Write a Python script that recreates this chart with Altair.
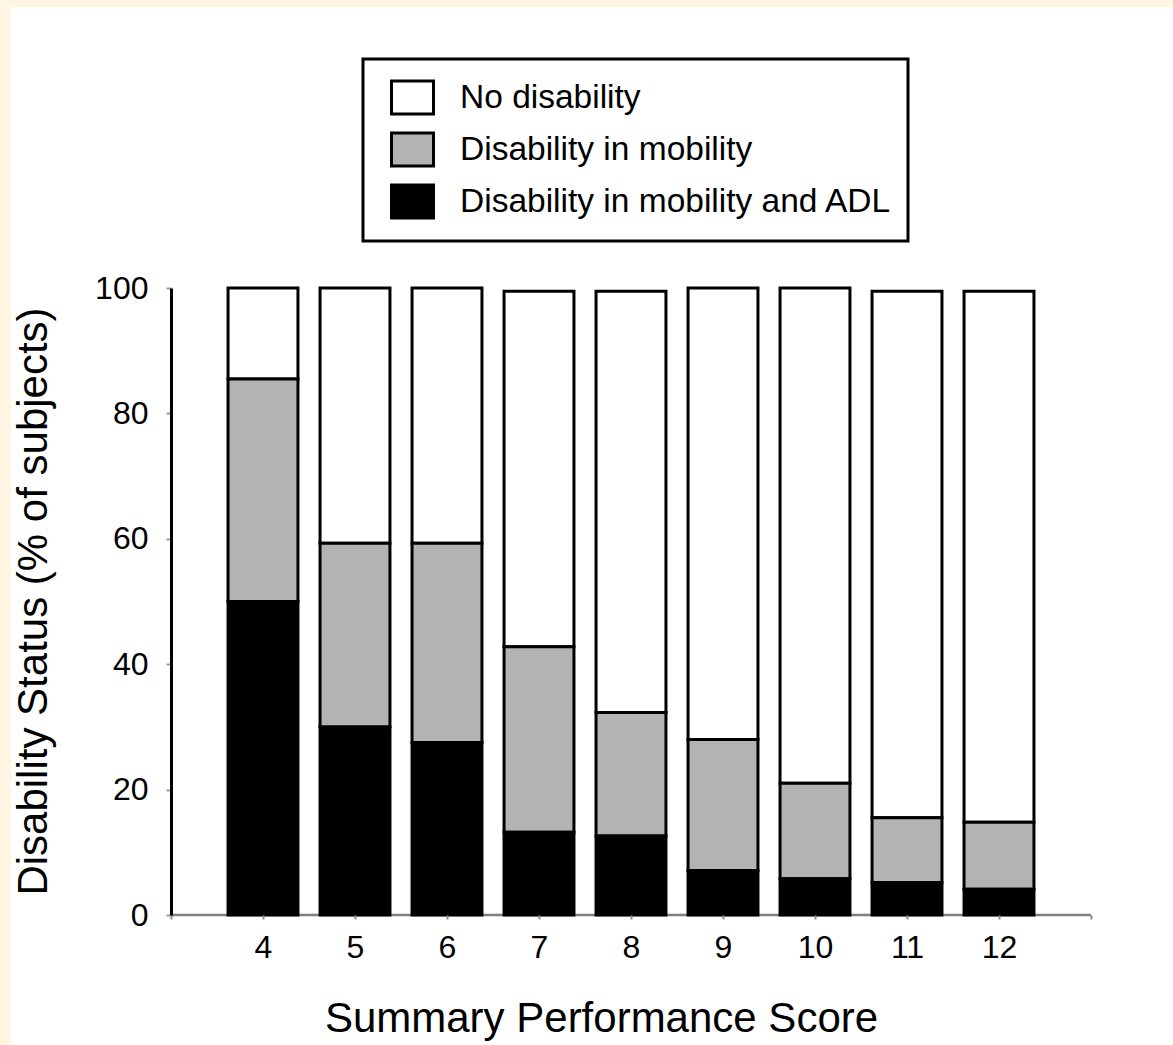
import altair as alt
import pandas as pd

# Summary Performance Score groups
scores = [4, 5, 6, 7, 8, 9, 10, 11, 12]

# Percent of subjects in each disability status (segments stack to ~100%)
adl = [50.0, 30.0, 27.5, 13.2, 12.6, 7.1, 5.8, 5.2, 4.1]
mobility = [35.5, 29.3, 31.8, 29.6, 19.7, 20.9, 15.2, 10.3, 10.7]
no_disability = [14.5, 40.7, 40.7, 56.7, 67.2, 72.0, 79.0, 84.0, 84.7]

categories = ["No disability", "Disability in mobility", "Disability in mobility and ADL"]
fills = ["#FFFFFF", "#B3B3B3", "#000000"]
stack_rank = [2, 1, 0]  # black at the bottom, white on top

x_ticks = list(range(3, 14))
y_ticks = [0, 20, 40, 60, 80, 100]

rows = []
for i, s in enumerate(scores):
    for cat, vals, rk in zip(categories, [no_disability, mobility, adl], stack_rank):
        rows.append({"score": s, "status": cat, "pct": vals[i], "rank": rk})
df = pd.DataFrame(rows)

FONT = "Liberation Sans"
W, H = 920, 627
PAD = {"left": 171, "top": 288, "right": 82, "bottom": 130}
Y_TITLE = "Disability Status (% of subjects)"

y_scale = alt.Scale(domain=[0, 100], nice=False)

# white page panel leaving a thin cream margin at top and left
panel = alt.Chart(pd.DataFrame({"k": [0]})).mark_rect(color="white").encode(
    x=alt.value(11 - PAD["left"]),
    x2=alt.value(W + PAD["right"]),
    y=alt.value(7 - PAD["top"]),
    y2=alt.value(H + PAD["bottom"]),
)

# grey baseline at 0%, drawn beneath the bars
baseline = alt.Chart(pd.DataFrame({"base": [0]})).mark_rule(
    color="#7f7f7f", strokeWidth=2.5
).encode(
    y=alt.Y("base:Q", scale=y_scale, title=Y_TITLE),
    x=alt.value(0),
    x2=alt.value(W),
)

bars = (
    alt.Chart(df)
    .transform_stack(stack="pct", groupby=["score"], as_=["y0", "y1"], sort=[alt.SortField("rank")])
    .transform_calculate(x0="datum.score - 0.38", x1="datum.score + 0.38")
    .mark_bar(stroke="black", strokeWidth=3)
    .encode(
        x=alt.X(
            "x0:Q",
            scale=alt.Scale(domain=[3, 13], nice=False, zero=False),
            axis=alt.Axis(
                values=x_ticks,
                labelExpr="datum.value >= 4 && datum.value <= 12 ? datum.label : ''",
                labelFlush=False,
                labelOverlap=False,
                domain=False,
                tickColor="#8c8c8c",
                tickSize=4,
                tickWidth=2,
                labelFontSize=32,
                labelPadding=13,
                labelColor="black",
                grid=False,
                zindex=1,
                titleFontSize=42,
                titleFontWeight="normal",
                titleColor="black",
                titleX=430,
                titleY=103,
                titleBaseline="middle",
                titleAlign="center",
            ),
            title="Summary Performance Score",
        ),
        x2="x1:Q",
        y=alt.Y(
            "y0:Q",
            scale=y_scale,
            axis=alt.Axis(
                values=y_ticks,
                domainColor="black",
                domainWidth=3,
                tickColor="#9a9a9a",
                tickSize=5,
                tickWidth=2,
                labelFontSize=32,
                labelPadding=18,
                labelColor="black",
                grid=False,
                zindex=1,
                titleFontSize=42,
                titleFontWeight="normal",
                titleColor="black",
                titleX=-138,
                titleY=313,
                titleBaseline="middle",
                titleAlign="center",
            ),
            title=Y_TITLE,
        ),
        y2="y1:Q",
        color=alt.Color(
            "status:N",
            scale=alt.Scale(domain=categories, range=fills),
            legend=alt.Legend(
                orient="none",
                legendX=192,
                legendY=-229,
                title=None,
                symbolType="M-0.476,-0.786H1.524V0.786H-0.476Z",
                symbolSize=1764,
                symbolStrokeColor="black",
                symbolStrokeWidth=3,
                symbolOpacity=1,
                labelFontSize=33.5,
                labelOffset=36,
                labelLimit=0,
                labelColor="black",
                padding=16,
                rowPadding=5,
                strokeColor="black",
                fillColor="white",
            ),
        ),
    )
)

chart = (
    alt.layer(panel, baseline, bars)
    .properties(
        width=W,
        height=H,
        background="#FFF5E1",
        padding=PAD,
        autosize=alt.AutoSizeParams(type="none"),
    )
    .configure(font=FONT)
    .configure_view(stroke=None)
    .configure_legend(strokeWidth=3)
)

chart.save("out.html", embed_options={"renderer": "svg", "actions": False})
